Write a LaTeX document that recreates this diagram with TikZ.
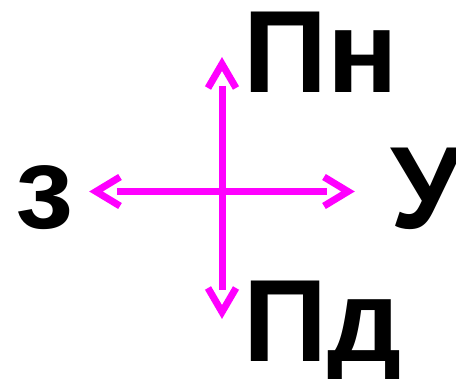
\documentclass[tikz,border=0pt]{standalone}
\usepackage{fontspec}
\setmainfont{Liberation Sans}
\definecolor{mag}{RGB}{255,0,255}
\begin{document}
\begin{tikzpicture}[x=1pt,y=-1pt,
  shaft/.style={draw=mag,line width=7pt},
  head/.style={draw=mag,line width=7pt,miter limit=10,line join=miter},
  lbl/.style={inner sep=0pt,anchor=base west,font=\fontsize{117}{117}\selectfont\bfseries}]
\useasboundingbox (0,0) rectangle (456,379);
\clip (0,0) rectangle (456,379);
\coordinate (c) at (222,191.5);
\coordinate (w) at (117,191.5);
\coordinate (e) at (327,191.5);
\coordinate (n) at (222,86);
\coordinate (s) at (222,290);
\draw[shaft] (w) -- (e);
\draw[shaft] (n) -- (s);
% arrowheads
\draw[head] (120,177) -- (96,191.5) -- (120,206);
\draw[head] (324,177) -- (348,191.5) -- (324,206);
\draw[head] (208,88) -- (222,64) -- (236,88);
\draw[head] (208,288) -- (222,312) -- (236,288);
\node[lbl] (pn) at (243,93) {Пн};
\node[lbl] (pd) at (243,362) {Пд};
\node[lbl] (z) at (15,229) {з};
\node[lbl] (u) at (390,229) {У};
\end{tikzpicture}
\end{document}
